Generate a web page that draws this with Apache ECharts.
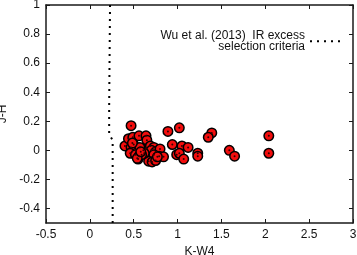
<!DOCTYPE html>
<html>
<head>
<meta charset="utf-8">
<script src="https://cdn.jsdelivr.net/npm/echarts@6/dist/echarts.min.js"></script>
<style>
html,body{margin:0;padding:0;background:#fff;}
#chart{width:357px;height:255px;}
</style>
</head>
<body>
<div id="chart"></div>
<script>
// K-W4 values of the sources
var kw4 = [0.47,0.40,0.44,0.49,0.56,0.64,0.65,0.47,0.50,0.52,0.48,0.46,0.52,0.55,0.56,0.61,0.64,0.69,0.73,0.70,0.75,0.80,0.79,0.84,0.73,0.67,0.71,0.75,0.62,0.59,0.77,0.57,0.485,0.54,0.58,
           0.89,1.02,0.94,1.05,1.12,0.99,1.02,1.07,1.23,1.23,
           1.39,1.35,1.59,1.65,2.04,2.04];
// J-H values of the sources
var jh  = [0.17,0.03,0.08,0.09,0.10,0.10,0.07,0.02,0.04,0.00,-0.01,-0.02,-0.03,-0.06,-0.04,0.00,0.01,0.03,0.02,0.00,-0.01,0.01,-0.04,-0.045,-0.03,-0.075,-0.08,-0.07,-0.02,-0.03,-0.045,0.02,0.05,-0.055,-0.01,
           0.13,0.155,0.04,0.03,0.02,-0.03,-0.02,-0.06,-0.02,-0.04,
           0.12,0.09,0.00,-0.04,0.10,-0.02];
// Wu et al. (2013) selection criteria line
var critX = [0.23,0.22,0.22,0.26,0.26];
var critY = [1.0,0.3,0.11,0.07,-0.5];
var xTicks = [-0.5,0,0.5,1,1.5,2,2.5,3];
var yTicks = [-0.4,-0.2,0,0.2,0.4,0.6,0.8,1];
var legendName = 'Wu et al. (2013)  IR excess\nselection criteria';

var pts = kw4.map(function(v,i){return [v, jh[i]];});
var crit = critX.map(function(v,i){return [v, critY[i]];});

var FONT = '"Liberation Sans", Arial, Helvetica, sans-serif';
var axisCol = '#1a1a1a';
var DOT = {color:'#000', width:2, type:[2,5], cap:'butt'};

var chart = echarts.init(document.getElementById('chart'), null, {renderer:'canvas'});
function xAx(pos, showLabel){
  return {
    type:'value', position:pos, min:-0.5, max:3, interval:0.5,
    name: showLabel ? 'K-W4' : '', nameLocation:'middle', nameGap:21,
    nameTextStyle:{fontFamily:FONT, fontSize:12, color:'#111'},
    axisLine:{show:true, onZero:false, lineStyle:{color:axisCol, width:1.5}},
    axisTick:{show:true, inside:true, length:4, lineStyle:{color:axisCol}, customValues:xTicks},
    axisLabel:{show:showLabel, fontFamily:FONT, fontSize:12, color:'#111', margin:6, customValues:xTicks},
    splitLine:{show:false}
  };
}
function yAx(pos, showLabel){
  return {
    type:'value', position:pos, min:-0.5, max:1,
    name: showLabel ? 'J-H' : '', nameLocation:'middle', nameGap:31,
    nameTextStyle:{fontFamily:FONT, fontSize:12, color:'#111'},
    axisLine:{show:true, onZero:false, lineStyle:{color:axisCol, width:1.5}},
    axisTick:{show:true, inside:true, length:4, lineStyle:{color:axisCol}, customValues:yTicks},
    axisLabel:{show:showLabel, fontFamily:FONT, fontSize:12, color:'#111', margin:6, customValues:yTicks},
    splitLine:{show:false}
  };
}
chart.setOption({
  animation:false,
  backgroundColor:'#fff',
  grid:{left:46, right:4, top:5, bottom:32, containLabel:false, outerBoundsMode:'none'},
  xAxis:[xAx('bottom', true), xAx('top', false)],
  yAxis:[yAx('left', true), yAx('right', false)],
  legend:{
    show:true, right:8, top:25, align:'right', orient:'vertical',
    itemWidth:33, itemHeight:10, selectedMode:false,
    itemStyle:{opacity:0},
    textStyle:{fontFamily:FONT, fontSize:12, color:'#111', lineHeight:10.5},
    data:[legendName]
  },
  series:[
    {
      type:'line', name:legendName, data:crit, symbol:'none', silent:true,
      lineStyle:DOT,
      itemStyle:{color:'#000'},
      z:3
    },
    {
      type:'scatter', name:'sources', data:pts, symbol:'circle', symbolSize:9.5,
      itemStyle:{color:'#f20d0d', borderColor:'#000', borderWidth:1.5, opacity:1},
      z:4
    },
    {
      type:'scatter', name:'centers', data:pts, symbol:'circle', symbolSize:2,
      itemStyle:{color:'#300', opacity:1},
      z:5, silent:true
    }
  ]
});
</script>
</body>
</html>
